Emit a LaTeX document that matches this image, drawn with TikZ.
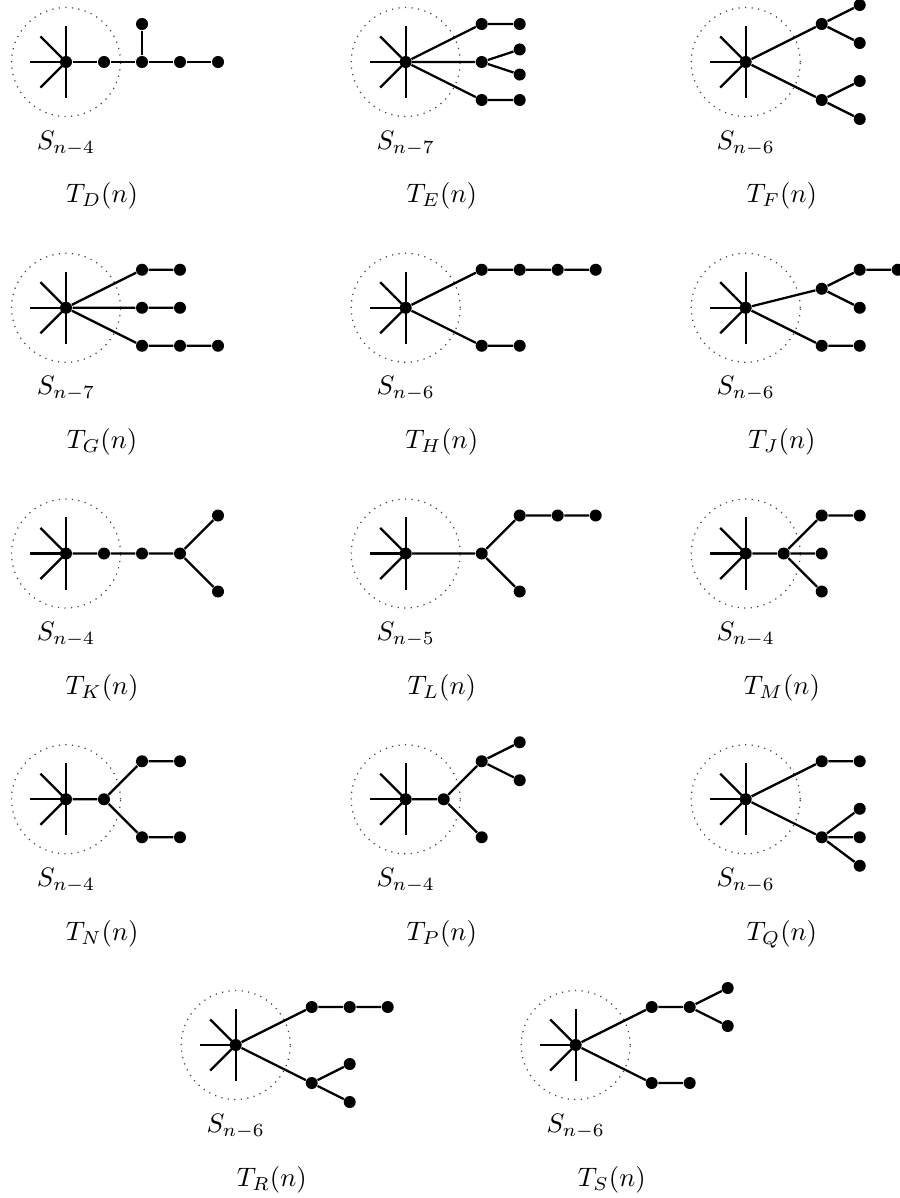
\documentclass[tikz,border=0pt]{standalone}
\begin{document}
\begin{tikzpicture}[
    x=0.5cm,y=0.5cm,
    vtx/.style={circle, fill=black, inner sep=0pt, minimum size=4.5pt},
    link/.style={line width=0.85pt},
    hubring/.style={draw=black!75, dotted, line width=0.45pt},
    lab/.style={anchor=base}
]
    \useasboundingbox (0,0) rectangle (23.658,-31.526);

    % stars with their labels
    \foreach \nm/\px/\py/\k in {D/1.737/1.632/4, E/10.676/1.632/7, F/19.624/1.632/6,
        G/1.737/8.099/7, H/10.676/8.099/6, J/19.624/8.099/6,
        K/1.737/14.566/4, L/10.676/14.566/5, M/19.624/14.566/4,
        N/1.737/21.033/4, P/10.676/21.033/4, Q/19.624/21.033/6,
        R/6.203/27.5/6, S/15.150/27.5/6} {
        \begin{scope}[shift={(\px,-\py)}]
            \node[vtx] (\nm0) at (0,0) {};
            \draw[hubring] (0,0) circle (1.434);
            \foreach \a in {90,135,180,225,270} {
                \draw[link] (\nm0.center) -- ++(\a:0.95);
            }
            \node[lab] (\nm s) at (0,-2.29) {$S_{n-\k}$};
            \node[lab] (\nm t) at (0.95,-3.71) {$T_{\nm}(n)$};
        \end{scope}
    }

    % T_D
    \begin{scope}[shift={(D0)}]
        \node[vtx] (D1) at (1,0) {};
        \node[vtx] (D2) at (2,0) {};
        \node[vtx] (D3) at (3,0) {};
        \node[vtx] (D4) at (4,0) {};
        \node[vtx] (D5) at (2,1) {};
    \end{scope}
    \draw[link] (D0) -- (D1) -- (D2) -- (D3) -- (D4) (D2) -- (D5);

    % T_E
    \begin{scope}[shift={(E0)}]
        \node[vtx] (E1) at (2,1) {};
        \node[vtx] (E2) at (3,1) {};
        \node[vtx] (E3) at (2,0) {};
        \node[vtx] (E4) at (3,0.33) {};
        \node[vtx] (E5) at (3,-0.33) {};
        \node[vtx] (E6) at (2,-1) {};
        \node[vtx] (E7) at (3,-1) {};
    \end{scope}
    \draw[link] (E0) -- (E1) -- (E2) (E0) -- (E3) -- (E4) (E3) -- (E5) (E0) -- (E6) -- (E7);

    % T_F
    \begin{scope}[shift={(F0)}]
        \node[vtx] (F1) at (2,1) {};
        \node[vtx] (F2) at (3,1.5) {};
        \node[vtx] (F3) at (3,0.5) {};
        \node[vtx] (F4) at (2,-1) {};
        \node[vtx] (F5) at (3,-0.5) {};
        \node[vtx] (F6) at (3,-1.5) {};
    \end{scope}
    \draw[link] (F0) -- (F1) -- (F2) (F1) -- (F3) (F0) -- (F4) -- (F5) (F4) -- (F6);

    % T_G
    \begin{scope}[shift={(G0)}]
        \node[vtx] (G1) at (2,1) {};
        \node[vtx] (G2) at (3,1) {};
        \node[vtx] (G3) at (2,0) {};
        \node[vtx] (G4) at (3,0) {};
        \node[vtx] (G5) at (2,-1) {};
        \node[vtx] (G6) at (3,-1) {};
        \node[vtx] (G7) at (4,-1) {};
    \end{scope}
    \draw[link] (G0) -- (G1) -- (G2) (G0) -- (G3) -- (G4) (G0) -- (G5) -- (G6) -- (G7);

    % T_H
    \begin{scope}[shift={(H0)}]
        \node[vtx] (H1) at (2,1) {};
        \node[vtx] (H2) at (3,1) {};
        \node[vtx] (H3) at (4,1) {};
        \node[vtx] (H4) at (5,1) {};
        \node[vtx] (H5) at (2,-1) {};
        \node[vtx] (H6) at (3,-1) {};
    \end{scope}
    \draw[link] (H0) -- (H1) -- (H2) -- (H3) -- (H4) (H0) -- (H5) -- (H6);

    % T_J
    \begin{scope}[shift={(J0)}]
        \node[vtx] (J1) at (2,0.5) {};
        \node[vtx] (J2) at (3,1) {};
        \node[vtx] (J3) at (4,1) {};
        \node[vtx] (J4) at (3,0) {};
        \node[vtx] (J5) at (2,-1) {};
        \node[vtx] (J6) at (3,-1) {};
    \end{scope}
    \draw[link] (J0) -- (J1) -- (J2) -- (J3) (J1) -- (J4) (J0) -- (J5) -- (J6);

    % T_K
    \begin{scope}[shift={(K0)}]
        \node[vtx] (K1) at (1,0) {};
        \node[vtx] (K2) at (2,0) {};
        \node[vtx] (K3) at (3,0) {};
        \node[vtx] (K4) at (4,1) {};
        \node[vtx] (K5) at (4,-1) {};
    \end{scope}
    \draw[link] (K0) -- (K1) -- (K2) -- (K3) -- (K4) (K3) -- (K5);

    % T_L
    \begin{scope}[shift={(L0)}]
        \node[vtx] (L1) at (2,0) {};
        \node[vtx] (L2) at (3,1) {};
        \node[vtx] (L3) at (4,1) {};
        \node[vtx] (L4) at (5,1) {};
        \node[vtx] (L5) at (3,-1) {};
    \end{scope}
    \draw[link] (L0) -- (L1) -- (L2) -- (L3) -- (L4) (L1) -- (L5);

    % T_M
    \begin{scope}[shift={(M0)}]
        \node[vtx] (M1) at (1,0) {};
        \node[vtx] (M2) at (2,1) {};
        \node[vtx] (M3) at (3,1) {};
        \node[vtx] (M4) at (2,0) {};
        \node[vtx] (M5) at (2,-1) {};
    \end{scope}
    \draw[link] (M0) -- (M1) -- (M2) -- (M3) (M1) -- (M4) (M1) -- (M5);

    % T_N
    \begin{scope}[shift={(N0)}]
        \node[vtx] (N1) at (1,0) {};
        \node[vtx] (N2) at (2,1) {};
        \node[vtx] (N3) at (3,1) {};
        \node[vtx] (N4) at (2,-1) {};
        \node[vtx] (N5) at (3,-1) {};
    \end{scope}
    \draw[link] (N0) -- (N1) -- (N2) -- (N3) (N1) -- (N4) -- (N5);

    % T_P
    \begin{scope}[shift={(P0)}]
        \node[vtx] (P1) at (1,0) {};
        \node[vtx] (P2) at (2,1) {};
        \node[vtx] (P3) at (3,1.5) {};
        \node[vtx] (P4) at (3,0.5) {};
        \node[vtx] (P5) at (2,-1) {};
    \end{scope}
    \draw[link] (P0) -- (P1) -- (P2) -- (P3) (P2) -- (P4) (P1) -- (P5);

    % T_Q
    \begin{scope}[shift={(Q0)}]
        \node[vtx] (Q1) at (2,1) {};
        \node[vtx] (Q2) at (3,1) {};
        \node[vtx] (Q3) at (2,-1) {};
        \node[vtx] (Q4) at (3,-0.25) {};
        \node[vtx] (Q5) at (3,-1) {};
        \node[vtx] (Q6) at (3,-1.75) {};
    \end{scope}
    \draw[link] (Q0) -- (Q1) -- (Q2) (Q0) -- (Q3) -- (Q4) (Q3) -- (Q5) (Q3) -- (Q6);

    % T_R
    \begin{scope}[shift={(R0)}]
        \node[vtx] (R1) at (2,1) {};
        \node[vtx] (R2) at (3,1) {};
        \node[vtx] (R3) at (4,1) {};
        \node[vtx] (R4) at (2,-1) {};
        \node[vtx] (R5) at (3,-0.5) {};
        \node[vtx] (R6) at (3,-1.5) {};
    \end{scope}
    \draw[link] (R0) -- (R1) -- (R2) -- (R3) (R0) -- (R4) -- (R5) (R4) -- (R6);

    % T_S
    \begin{scope}[shift={(S0)}]
        \node[vtx] (S1) at (2,1) {};
        \node[vtx] (S2) at (3,1) {};
        \node[vtx] (S3) at (4,1.5) {};
        \node[vtx] (S4) at (4,0.5) {};
        \node[vtx] (S5) at (2,-1) {};
        \node[vtx] (S6) at (3,-1) {};
    \end{scope}
    \draw[link] (S0) -- (S1) -- (S2) -- (S3) (S2) -- (S4) (S0) -- (S5) -- (S6);
\end{tikzpicture}
\end{document}
